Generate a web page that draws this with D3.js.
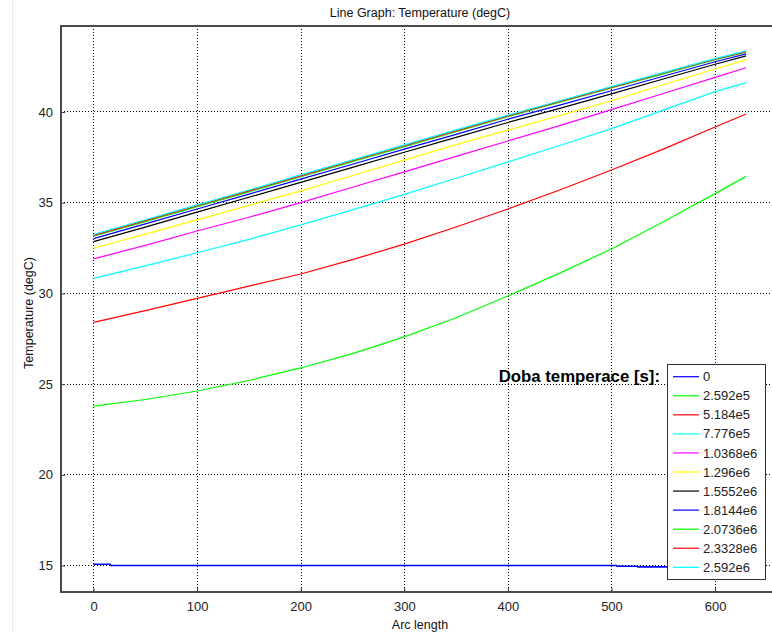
<!DOCTYPE html>
<html>
<head>
<meta charset="utf-8">
<script src="https://cdn.jsdelivr.net/npm/d3@7"></script>
<style>
  html, body { margin: 0; padding: 0; background: #fff; }
  svg { display: block; font-family: "Liberation Sans", Arial, sans-serif; }
</style>
</head>
<body>
<svg id="chart" width="772" height="637"></svg>
<script>
// ---- data ----
const title = "Line Graph: Temperature (degC)";
const xLabel = "Arc length";
const yLabel = "Temperature (degC)";
const legendTitle = "Doba temperace [s]:";
const xTicks = [0, 100, 200, 300, 400, 500, 600, 700];
const yTicks = [15, 20, 25, 30, 35, 40];
const seriesNames = ["0", "2.592e5", "5.184e5", "7.776e5", "1.0368e6", "1.296e6",
  "1.5552e6", "1.8144e6", "2.0736e6", "2.3328e6", "2.592e6"];
const seriesColors = ["#0000ff", "#00ff00", "#ff0000", "#00ffff", "#ff00ff", "#ffff00",
  "#000000", "#0000ff", "#00ff00", "#ff0000", "#00ffff"];

const arcX = [0, 50, 100, 150, 200, 250, 300, 350, 400, 450, 500, 550, 600, 630];
const arcX0 = [0, 16, 16.5, 505, 505.5, 525, 525.5, 630];
const temp0 = [15.07, 15.07, 15.0, 15.0, 14.96, 14.96, 14.93, 14.93];
const temp1 = [23.79, 24.15, 24.62, 25.2, 25.89, 26.68, 27.6, 28.66, 29.86, 31.12, 32.45, 33.95, 35.5, 36.45];
const temp2 = [28.4, 29.05, 29.73, 30.4, 31.07, 31.86, 32.72, 33.66, 34.65, 35.7, 36.8, 37.95, 39.17, 39.89];
const temp3 = [30.83, 31.52, 32.24, 32.98, 33.78, 34.6, 35.46, 36.35, 37.25, 38.15, 39.08, 40.1, 41.12, 41.62];
const temp4 = [31.9, 32.65, 33.44, 34.2, 35.0, 35.85, 36.7, 37.55, 38.4, 39.25, 40.13, 41.02, 41.91, 42.44];
const temp5 = [32.49, 33.27, 34.05, 34.85, 35.65, 36.5, 37.35, 38.2, 39.0, 39.8, 40.62, 41.5, 42.37, 42.87];
const temp6 = [32.85, 33.65, 34.48, 35.3, 36.12, 36.95, 37.78, 38.6, 39.42, 40.2, 41.0, 41.82, 42.63, 43.09];
const temp7 = [33.02, 33.83, 34.65, 35.47, 36.3, 37.12, 37.95, 38.77, 39.6, 40.38, 41.17, 41.97, 42.77, 43.2];
const temp8 = [33.15, 33.96, 34.78, 35.6, 36.43, 37.26, 38.09, 38.91, 39.74, 40.54, 41.32, 42.1, 42.88, 43.3];
const temp9 = [33.2, 34.01, 34.83, 35.65, 36.48, 37.31, 38.14, 38.96, 39.78, 40.58, 41.36, 42.14, 42.91, 43.33];
const temp10 = [33.25, 34.06, 34.88, 35.7, 36.53, 37.36, 38.19, 39.01, 39.83, 40.62, 41.4, 42.17, 42.94, 43.37];

const seriesX = [arcX0, arcX, arcX, arcX, arcX, arcX, arcX, arcX, arcX, arcX, arcX];
const seriesY = [temp0, temp1, temp2, temp3, temp4, temp5, temp6, temp7, temp8, temp9, temp10];

// ---- layout ----
const plot = { left: 61, top: 26, right: 779, bottom: 592 };
const svg = d3.select("#chart");

const x = d3.scaleLinear().domain([-31.37, 661.7]).range([plot.left, plot.right]);
const y = d3.scaleLinear().domain([13.54, 44.74]).range([plot.bottom, plot.top]);

// faint left frame line
svg.append("line").attr("x1", 12.5).attr("x2", 12.5).attr("y1", 0).attr("y2", 632)
  .attr("stroke", "#ececec").attr("stroke-width", 1);

svg.append("clipPath").attr("id", "clip").append("rect")
  .attr("x", plot.left).attr("y", plot.top)
  .attr("width", plot.right - plot.left).attr("height", plot.bottom - plot.top);

// grid
const grid = svg.append("g").attr("clip-path", "url(#clip)").attr("shape-rendering", "crispEdges");
grid.selectAll(".gx").data(xTicks).join("line")
  .attr("x1", d => Math.round(x(d)) + 0.5).attr("x2", d => Math.round(x(d)) + 0.5)
  .attr("y1", plot.top).attr("y2", plot.bottom)
  .attr("stroke", "#000").attr("stroke-dasharray", "1,2");
grid.selectAll(".gy").data(yTicks).join("line")
  .attr("y1", d => Math.floor(y(d)) + 0.5).attr("y2", d => Math.floor(y(d)) + 0.5)
  .attr("x1", plot.left).attr("x2", plot.right)
  .attr("stroke", "#000").attr("stroke-dasharray", "1,2");

// lines
const lines = svg.append("g").attr("clip-path", "url(#clip)");
seriesY.forEach((ys, i) => {
  const pts = ys.map((v, j) => [seriesX[i][j], v]);
  lines.append("path")
    .datum(pts)
    .attr("fill", "none")
    .attr("stroke", seriesColors[i])
    .attr("stroke-width", i === 0 ? 1.7 : 1.2)
    .attr("d", d3.line().x(d => x(d[0])).y(d => y(d[1])));
});

// axes
const xAxis = d3.axisBottom(x).tickValues(xTicks).tickSize(-4).tickPadding(10).tickFormat(d3.format("d"));
const yAxis = d3.axisLeft(y).tickValues(yTicks).tickSize(-4).tickPadding(8).tickFormat(d3.format("d"));

const gx = svg.append("g").attr("transform", `translate(0,${plot.bottom})`).call(xAxis);
const gy = svg.append("g").attr("transform", `translate(${plot.left},0)`).call(yAxis);
[gx, gy].forEach(g => {
  g.select(".domain").remove();
  g.selectAll(".tick line").attr("stroke", "#333");
  g.selectAll(".tick text").attr("fill", "#222").style("font-size", "13px")
    .style("font-family", "'Liberation Sans', Arial, sans-serif");
});
gx.selectAll(".tick").filter(d => x(d) > 772).remove();

// frame
svg.append("path")
  .attr("d", `M${plot.right},${plot.top}H${plot.left}V${plot.bottom}H${plot.right}`)
  .attr("fill", "none").attr("stroke", "#4a4a4a").attr("stroke-width", 2);

// titles
svg.append("text").attr("x", (plot.left + plot.right) / 2).attr("y", 17)
  .attr("text-anchor", "middle").style("font-size", "12.5px").attr("fill", "#111").text(title);
svg.append("text").attr("x", (plot.left + plot.right) / 2).attr("y", 629)
  .attr("text-anchor", "middle").style("font-size", "12.5px").attr("fill", "#111").text(xLabel);
svg.append("text").attr("transform", `translate(33,${(plot.top + plot.bottom) / 2 + 4}) rotate(-90)`)
  .attr("text-anchor", "middle").style("font-size", "12.5px").attr("fill", "#111").text(yLabel);

// legend
const leg = { x: 667.5, y: 364.5, w: 98, h: 215, rowH: 19.06, first: 376.7 };
svg.append("text").attr("x", 660).attr("y", 382)
  .attr("text-anchor", "end").style("font-size", "16.8px").style("font-weight", "bold")
  .attr("fill", "#000").text(legendTitle);
svg.append("rect").attr("x", leg.x).attr("y", leg.y).attr("width", leg.w).attr("height", leg.h)
  .attr("fill", "#fff").attr("stroke", "#333").attr("stroke-width", 1);
const rows = svg.append("g").selectAll("g").data(seriesNames).join("g")
  .attr("transform", (d, i) => `translate(0,${leg.first + i * leg.rowH})`);
rows.append("line").attr("x1", 673).attr("x2", 699).attr("y1", 0).attr("y2", 0)
  .attr("stroke", (d, i) => seriesColors[i]).attr("stroke-width", 1.2);
rows.append("text").attr("x", 703).attr("y", 0).attr("dy", "0.35em")
  .style("font-size", "13px").attr("fill", "#222").text(d => d);
</script>
</body>
</html>
